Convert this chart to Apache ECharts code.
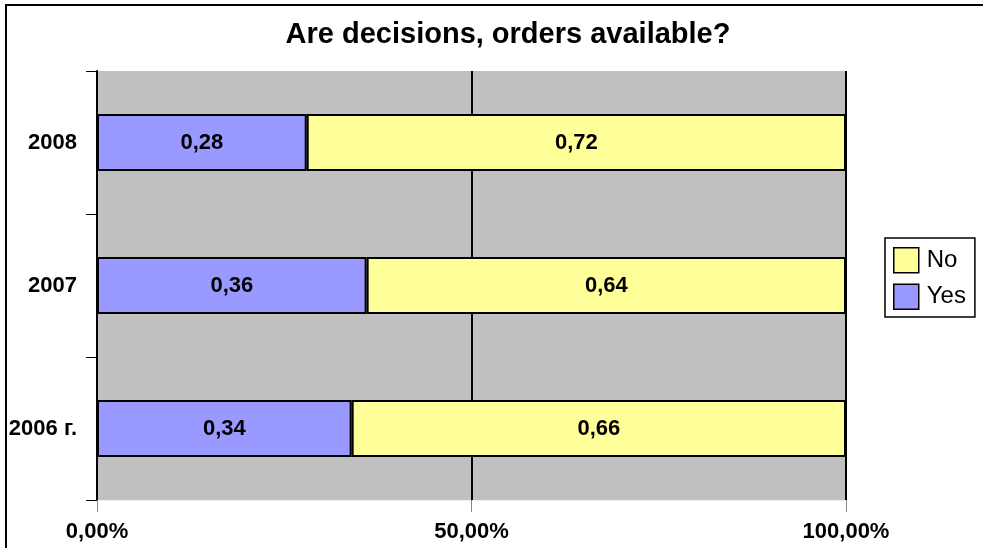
<!DOCTYPE html>
<html><head><meta charset="utf-8">
<script src="https://cdn.jsdelivr.net/npm/echarts@6/dist/echarts.min.js"></script>
<style>html,body{margin:0;padding:0;background:#fff}#c{width:983px;height:548px}</style>
</head><body><div id="c"></div>
<script>
const categories = ['2006 г.', '2007', '2008'];
const yesValues = [0.34, 0.36, 0.28];
const noValues = [0.66, 0.64, 0.72];
const xTicks = [0, 0.5, 1];
const titleText = 'Are decisions, orders available?';
const FONT = '"Liberation Sans", Arial, sans-serif';
const fmt = v => String(v.toFixed(2)).replace('.', ',');
const chart = echarts.init(document.getElementById('c'));
chart.setOption({
  backgroundColor: '#fff',
  animation: false,
  title: {text: titleText, left: 503, textAlign: 'center', top: 15, textStyle: {fontFamily: FONT, fontSize: 29, fontWeight: 'bold', color: '#000'}},
  graphic: [{type: 'rect', shape: {x: 6, y: 5, width: 1000, height: 600}, style: {fill: 'none', stroke: '#000', lineWidth: 2}, z: 100}],
  legend: {
    orient: 'vertical', left: 885, top: 238, data: ['No', 'Yes'],
    borderColor: '#000', borderWidth: 1.5, padding: [9, 9, 7, 8], itemGap: 10,
    itemWidth: 25, itemHeight: 25, icon: 'rect',
    itemStyle: {borderColor: '#000', borderWidth: 1.5},
    textStyle: {fontFamily: FONT, fontSize: 24, color: '#000', padding: [0, 0, 0, 3]}
  },
  grid: {left: 97, right: 137, top: 71, bottom: 48, show: true, backgroundColor: '#C0C0C0', borderWidth: 0},
  xAxis: {
    type: 'value', min: 0, max: 1, interval: 0.5,
    axisLine: {show: true, lineStyle: {color: '#eee', width: 1}},
    axisTick: {show: true, length: 12, lineStyle: {color: '#888', width: 1}},
    splitLine: {show: true, lineStyle: {color: '#000', width: 2}},
    axisLabel: {margin: 21, formatter: v => fmt(v * 100) + '%', fontFamily: FONT, fontSize: 22, fontWeight: 'bold', color: '#000'}
  },
  yAxis: {
    type: 'category', data: categories,
    axisLine: {show: true, lineStyle: {color: '#000', width: 2}},
    axisTick: {show: true, length: 11, lineStyle: {color: '#000', width: 1}},
    axisLabel: {margin: 20, fontFamily: FONT, fontSize: 22, fontWeight: 'bold', color: '#000'}
  },
  series: [
    {name: 'Yes', type: 'bar', stack: 's', data: yesValues, barWidth: 57,
     itemStyle: {color: '#9999FF', borderColor: '#000', borderWidth: 2},
     label: {show: true, position: 'inside', formatter: p => fmt(p.value), fontFamily: FONT, fontSize: 22, fontWeight: 'bold', color: '#000'}},
    {name: 'No', type: 'bar', stack: 's', data: noValues, barWidth: 57,
     itemStyle: {color: '#FFFF99', borderColor: '#000', borderWidth: 2},
     label: {show: true, position: 'inside', formatter: p => fmt(p.value), fontFamily: FONT, fontSize: 22, fontWeight: 'bold', color: '#000'}}
  ]
});
</script></body></html>
